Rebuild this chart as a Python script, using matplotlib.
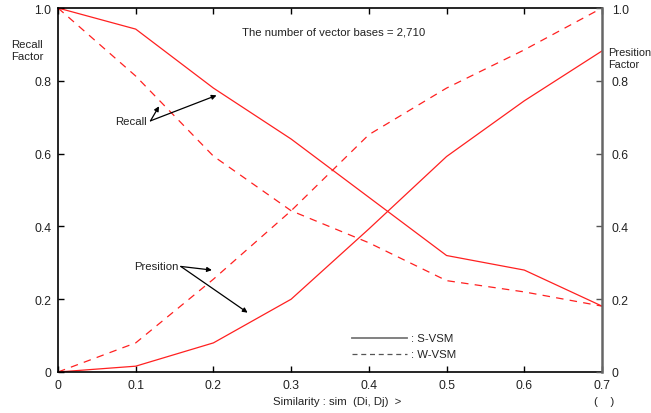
import matplotlib
matplotlib.use("Agg")
import matplotlib.pyplot as plt
from matplotlib.lines import Line2D

plt.rcParams['font.family'] = ['Liberation Sans', 'DejaVu Sans']

similarity = [0.0, 0.1, 0.2, 0.3, 0.4, 0.5, 0.6, 0.7]
recall_s = [1.0, 0.942, 0.78, 0.64, 0.48, 0.32, 0.28, 0.181]
recall_w = [1.0, 0.813, 0.593, 0.443, 0.355, 0.251, 0.22, 0.181]
precision_s = [0.0, 0.016, 0.08, 0.2, 0.393, 0.592, 0.745, 0.882]
precision_w = [0.0, 0.08, 0.255, 0.443, 0.652, 0.78, 0.885, 1.0]

x_ticks = [0, 0.1, 0.2, 0.3, 0.4, 0.5, 0.6, 0.7]
x_tick_labels = ['0', '0.1', '0.2', '0.3', '0.4', '0.5', '0.6', '0.7']
y_ticks = [0, 0.2, 0.4, 0.6, 0.8, 1.0]
y_tick_labels = ['0', '0.2', '0.4', '0.6', '0.8', '1.0']

red = '#ff2020'
dash = (0, (6, 5))
fs = 8.2

fig = plt.figure(figsize=(6.51, 4.14), dpi=100)
ax = fig.add_axes([58/651, 1-373/414, (602-58)/651, (373-9)/414])

ax.plot(similarity, recall_s, color=red, lw=0.9)
ax.plot(similarity, recall_w, color=red, lw=0.9, linestyle=dash)
ax.plot(similarity, precision_s, color=red, lw=0.9)
ax.plot(similarity, precision_w, color=red, lw=0.9, linestyle=dash)

ax.set_xlim(0, 0.7)
ax.set_ylim(0, 1.0)
ax.set_xticks(x_ticks)
ax.set_xticklabels(x_tick_labels, fontsize=8.8, color='#222222')
ax.set_yticks(y_ticks)
ax.set_yticklabels(y_tick_labels, fontsize=8.8, color='#222222')
ax.tick_params(axis='both', direction='in', length=4, width=1, top=True, pad=5)
for side in ['left', 'top', 'bottom']:
    ax.spines[side].set_linewidth(1.2)
    ax.spines[side].set_color('black')
ax.spines['right'].set_visible(False)

# Right-hand precision axis
ax2 = ax.twinx()
ax2.set_ylim(0, 1.0)
ax2.set_yticks(y_ticks)
ax2.set_yticklabels(y_tick_labels, fontsize=8.8, color='#222222')
ax2.tick_params(axis='y', direction='in', length=4, width=1, pad=7, color='#555555')
ax2.spines['right'].set_color('#666666')
ax2.spines['right'].set_linewidth(1.8)
for side in ['left', 'top', 'bottom']:
    ax2.spines[side].set_visible(False)

# Axis titles
fig.text(11/651, 1-51/414, 'Recall\nFactor', fontsize=fs, ha='left', va='center',
         linespacing=1.2, color='#222222')
fig.text(608/651, 1-59/414, 'Presition\nFactor', fontsize=7.9, ha='left', va='center',
         linespacing=1.2, color='#222222')
fig.text(273/651, 1-402/414, 'Similarity : sim  (Di, Dj)  >', fontsize=fs, ha='left',
         va='center', color='#222222')
fig.text(604/651, 1-402/414, '(    )', fontsize=fs, ha='center', va='center', color='#222222')

ax.text(0.338, 0.935, 'The number of vector bases = 2,710', transform=ax.transAxes,
        fontsize=fs, ha='left', va='center', color='#222222')

# Curve annotations
arrow = dict(arrowstyle='-|>', color='black', lw=0.9, mutation_scale=7, shrinkA=0, shrinkB=0)
ax.annotate('', xy=(0.130, 0.730), xytext=(0.119, 0.690), arrowprops=arrow)
ax.annotate('', xy=(0.204, 0.760), xytext=(0.119, 0.690), arrowprops=arrow)
ax.text(0.114, 0.690, 'Recall', fontsize=fs, ha='right', va='center', color='#222222')

ax.annotate('', xy=(0.198, 0.280), xytext=(0.158, 0.290), arrowprops=arrow)
ax.annotate('', xy=(0.244, 0.163), xytext=(0.158, 0.290), arrowprops=arrow)
ax.text(0.155, 0.292, 'Presition', fontsize=fs, ha='right', va='center', color='#222222')

# Line-style key
ax.add_line(Line2D([0.540, 0.642], [0.094, 0.094], transform=ax.transAxes,
                   color='#777777', lw=1.3))
ax.add_line(Line2D([0.540, 0.642], [0.050, 0.050], transform=ax.transAxes,
                   color='#555555', lw=0.9, linestyle=(0, (4, 3))))
ax.text(0.648, 0.094, ': S-VSM', transform=ax.transAxes, fontsize=fs, ha='left',
        va='center', color='#222222')
ax.text(0.648, 0.050, ': W-VSM', transform=ax.transAxes, fontsize=fs, ha='left',
        va='center', color='#222222')

fig.savefig('out.png', dpi=100)
